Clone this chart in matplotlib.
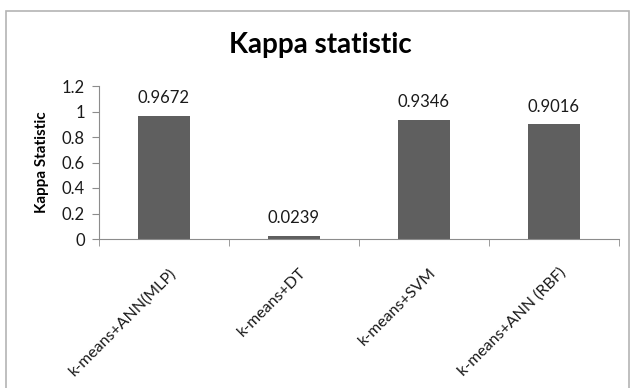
import numpy as np
import matplotlib.pyplot as plt
import matplotlib.transforms as mtransforms
from matplotlib.patches import Rectangle

categories = ["k-means+ANN(MLP)", "k-means+DT", "k-means+SVM", "k-means+ANN (RBF)"]
kappa = [0.9672, 0.0239, 0.9346, 0.9016]
value_labels = ["0.9672", "0.0239", "0.9346", "0.9016"]
yticks = [0, 0.2, 0.4, 0.6, 0.8, 1.0, 1.2]
ytick_labels = ["0", "0.2", "0.4", "0.6", "0.8", "1", "1.2"]

plt.rcParams['font.family'] = ['Lato', 'DejaVu Sans']

fig = plt.figure(figsize=(6.35, 3.88), dpi=100)
fig.patch.set_facecolor("white")

# outer chart frame (bottom edge runs off the picture)
fig.patches.append(Rectangle((6/635, -0.05), 623/635, 1.05 - 11/388,
                             transform=fig.transFigure, fill=False,
                             edgecolor="#b4b4b4", linewidth=1.2))

ax = fig.add_axes([99/635, 1 - 239/388, 520/635, 153/388])
x = np.arange(len(categories))
ax.bar(x, kappa, width=0.4, color="#5f5f5f", zorder=2)

for xi, v, lab in zip(x, kappa, value_labels):
    ax.annotate(lab, (xi, v), xytext=(0, 9), textcoords="offset points",
                ha="center", va="baseline", fontsize=12, color="#1a1a1a")

ax.set_xlim(-0.5, len(categories) - 0.5)
ax.set_ylim(0, 1.2)
ax.set_yticks(yticks)
ax.set_yticklabels(ytick_labels, fontsize=12, color="#1a1a1a")
ax.set_xticks(x)
ax.set_xticklabels(categories, rotation=45, ha="right", rotation_mode="anchor",
                   fontsize=11.5, color="#1a1a1a")
ax.tick_params(axis="x", which="major", length=0, pad=19)
shift = mtransforms.ScaledTranslation(5/100, 0, fig.dpi_scale_trans)
for lbl in ax.get_xticklabels():
    lbl.set_transform(lbl.get_transform() + shift)
ax.set_xticks(np.arange(-0.5, len(categories)), minor=True)
ax.tick_params(axis="x", which="minor", length=5, color="#8c8c8c", direction="out")
ax.tick_params(axis="y", length=5, color="#8c8c8c", direction="out", pad=5)

for s in ["top", "right"]:
    ax.spines[s].set_visible(False)
for s in ["left", "bottom"]:
    ax.spines[s].set_color("#8c8c8c")

ax.set_ylabel("Kappa Statistic", fontsize=11, fontweight="bold", labelpad=9)
fig.text(320/635, 1 - 53/388, "Kappa statistic", ha="center", va="baseline",
         fontsize=20, fontweight="bold")

fig.savefig("out.png", dpi=100)
